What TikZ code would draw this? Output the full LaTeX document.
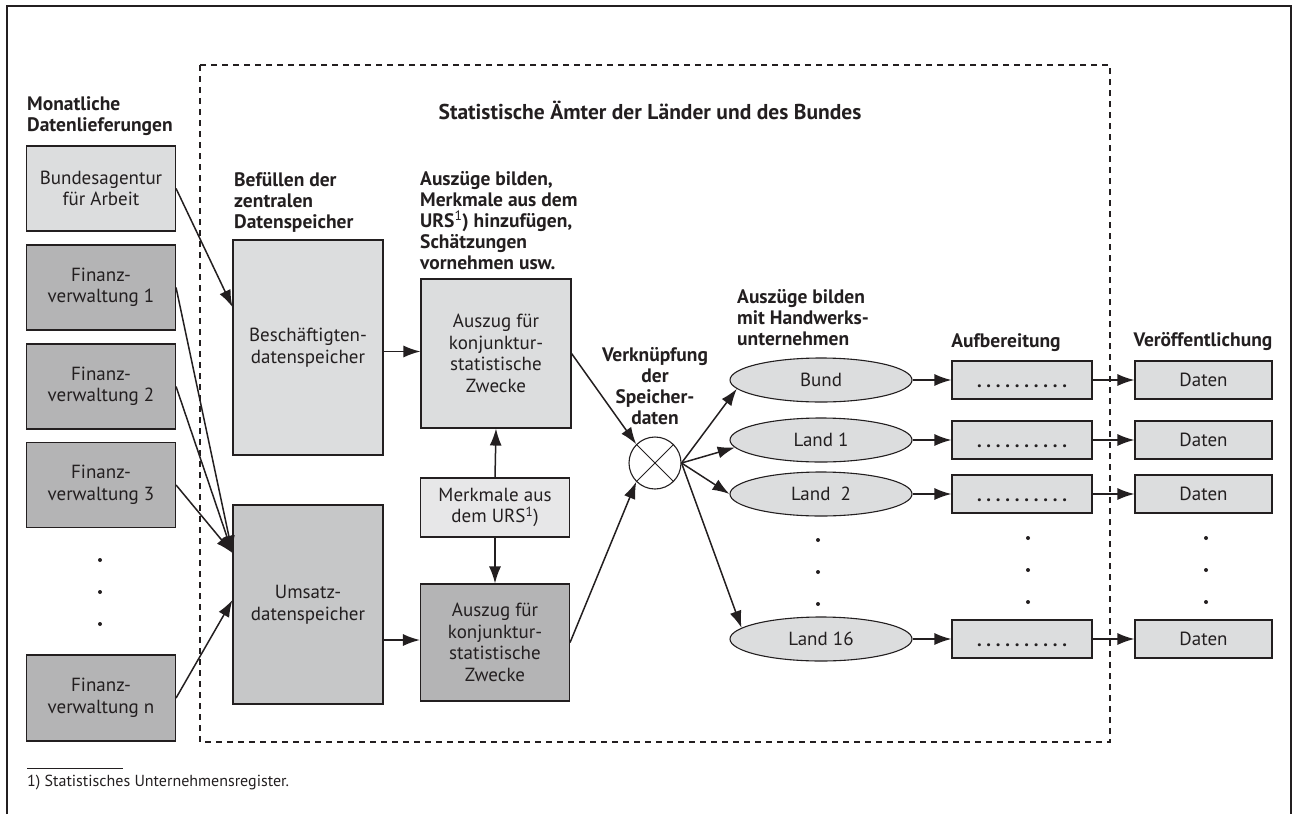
\documentclass[tikz,border=0pt]{standalone}
\usepackage{fontspec}
\setmainfont{PT Sans}
\usetikzlibrary{arrows.meta,shapes.geometric}

\definecolor{flowgraylight}{rgb}{0.863,0.867,0.871}
\definecolor{flowgraymid}{rgb}{0.776,0.780,0.784}
\definecolor{flowgraydark}{rgb}{0.706,0.706,0.710}
\definecolor{flowgraypale}{rgb}{0.906,0.906,0.910}
\definecolor{flowtext}{rgb}{0.137,0.122,0.125}

\tikzset{
  box/.style={draw=flowtext,line width=1.1pt,fill=flowgraylight,align=center,inner sep=0pt,
    text=flowtext,font=\fontsize{19}{21.5}\selectfont},
  elli/.style={ellipse,draw=flowtext,line width=1.1pt,fill=flowgraylight,inner sep=0pt,
    minimum width=182pt,minimum height=44pt,text=flowtext,font=\fontsize{19}{21.5}\selectfont},
  lbl/.style={align=left,inner sep=0pt,text=flowtext,font=\bfseries\fontsize{19.5}{21}\selectfont},
  arr/.style={draw=flowtext,line width=1.5pt,-{Latex[length=17pt,width=12pt]}},
}

\begin{document}
\begin{tikzpicture}[x=1pt,y=-1pt]
\useasboundingbox (0,0) rectangle (1292,814);
\draw[flowtext,line width=1.4pt] (7,814) -- (7,6) -- (1291,6) -- (1291,814);
\draw[flowtext,line width=1.5pt,dash pattern=on 6pt off 5pt] (200,65) rectangle (1110,742);

% labels
\node[lbl,align=center,font=\bfseries\fontsize{21.5}{24}\selectfont] (titel) at (650,110) {Statistische Ämter der Länder und des Bundes};
\node[lbl,anchor=west] (lblmonat) at (27,116.5) {Monatliche\\Datenlieferungen};
\node[lbl,anchor=west] (lblbef) at (234,202) {Befüllen der\\zentralen\\Datenspeicher};
\node[lbl,anchor=west] (lblausz) at (420,221) {Auszüge bilden,\\Merkmale aus dem\\URS\textsuperscript{\mdseries 1}) hinzufügen,\\Schätzungen\\vornehmen usw.};
\node[lbl,align=center] (lblverk) at (655,386.5) {Verknüpfung\\der\\Speicher-\\daten};
\node[lbl,anchor=west] (lblhand) at (737,318) {Auszüge bilden\\mit Handwerks-\\unternehmen};
\node[lbl] (lblaufb) at (1006,343) {Aufbereitung};
\node[lbl] (lblver) at (1203,342) {Veröffentlichung};

% left column
\node[box,minimum width=149pt,minimum height=85pt] (ba) at (101,188.5) {Bundesagentur\\für Arbeit};
\node[box,fill=flowgraydark,minimum width=149pt,minimum height=85pt] (fv1) at (101,287.5) {Finanz-\\verwaltung 1};
\node[box,fill=flowgraydark,minimum width=149pt,minimum height=85pt] (fv2) at (101,386.5) {Finanz-\\verwaltung 2};
\node[box,fill=flowgraydark,minimum width=149pt,minimum height=85pt] (fv3) at (101,485) {Finanz-\\verwaltung 3};
\node[box,fill=flowgraydark,minimum width=149pt,minimum height=86pt] (fvn) at (101,698) {Finanz-\\verwaltung n};

% speicher
\node[box,minimum width=150pt,minimum height=215pt] (besch) at (308,347.5) {Beschäftigten-\\datenspeicher};
\node[box,fill=flowgraymid,minimum width=150pt,minimum height=199pt] (umsatz) at (308,604.5) {Umsatz-\\datenspeicher};
\node[box,minimum width=150pt,minimum height=149pt] (auszuga) at (496,353.5) {Auszug für\\konjunktur-\\statistische\\Zwecke};
\node[box,fill=flowgraypale,minimum width=149pt,minimum height=59pt] (merkmale) at (495,507.5) {Merkmale aus\\dem URS\textsuperscript{1})};
\node[box,fill=flowgraydark,minimum width=149pt,minimum height=117pt] (auszugb) at (495,642.5) {Auszug für\\konjunktur-\\statistische\\Zwecke};
\node[circle,draw=flowtext,line width=1.1pt,fill=white,minimum size=52pt,inner sep=0pt] (verk) at (655,463) {};
\draw[flowtext,line width=1pt] (verk.north west) -- (verk.south east) (verk.north east) -- (verk.south west);

% rows
\node[elli] (bund) at (821,380) {Bund};
\node[elli] (land1) at (821,440) {Land 1};
\node[elli] (land2) at (821,494) {Land\ \ 2};
\node[elli] (land16) at (821,639) {Land 16};
\foreach \r/\yy in {1/380,2/440,3/494,16/639}{
  \node[box,minimum width=140pt,minimum height=38pt] (aufb\r) at (1022,\yy) {\rule{0pt}{15pt}\bfseries .\ .\ .\ .\ .\ .\ .\ .\ .\ .};
  \node[box,minimum width=137pt,minimum height=38pt] (daten\r) at (1203.5,\yy) {Daten};
}
\foreach \xx/\yy in {100/560,818/540,1028/538,1206/538}{
  \foreach \k in {0,1,2}
    \fill[flowtext] (\xx,\yy+32*\k) circle (2pt);
}

% connectors
\coordinate (umsin) at ([yshift=51.5pt]umsatz.west);
\draw[arr] (ba.east) -- ([yshift=40.5pt]besch.west);
\draw[arr] (fv1.east) -- (umsin);
\draw[arr] (fv2.east) -- (umsin);
\draw[arr] (fv3.east) -- (umsin);
\draw[arr] (fvn.east) -- ([yshift=4.5pt]umsatz.west);
\draw[arr] ([yshift=-4pt]besch.east) -- ([yshift=-4pt]besch.east -| auszuga.west);
\draw[arr] ([yshift=-35.5pt]umsatz.east) -- ([yshift=-35.5pt]umsatz.east -| auszugb.west);
\draw[arr] (merkmale.north) -- (auszuga.south);
\draw[arr] (merkmale.south) -- (auszugb.north);
\draw[arr] (auszuga.east) -- (verk.north west);
\draw[arr] (auszugb.east) -- (verk.south west);
\draw[arr] (verk.east) -- (bund.186);
\draw[arr] (verk.east) -- (land1.185);
\draw[arr] (verk.east) -- (land2.west);
\draw[arr] (verk.east) -- (land16.172);
\draw[arr] (bund.east) -- (aufb1.west);
\draw[arr] (land1.east) -- (aufb2.west);
\draw[arr] (land2.east) -- (aufb3.west);
\draw[arr] (land16.east) -- (aufb16.west);
\foreach \r in {1,2,3,16}
  \draw[arr] (aufb\r.east) -- (daten\r.west);

% footnote
\draw[flowtext,line width=0.9pt] (27,768) -- (123,768);
\node[anchor=west,inner sep=0pt,text=flowtext,font=\fontsize{16}{18}\selectfont] (fussnote) at (27,783) {1) Statistisches Unternehmensregister.};
\end{tikzpicture}
\end{document}
